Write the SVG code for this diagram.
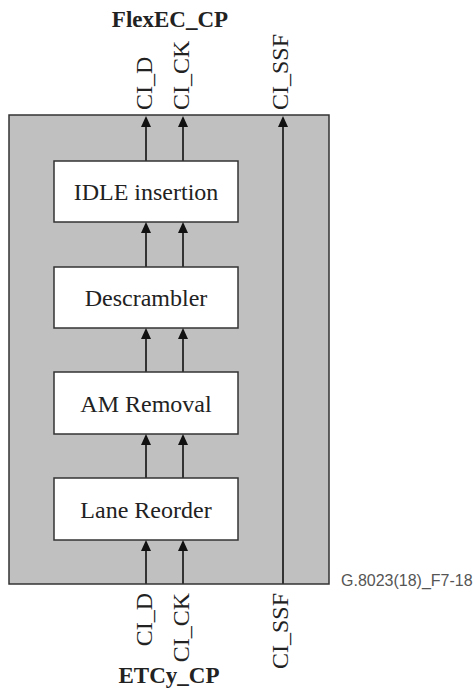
<svg xmlns="http://www.w3.org/2000/svg" width="474" height="690" viewBox="0 0 474 690">
<defs>
<style>
.frame{fill:#c0c0c0;stroke:#333;stroke-width:1.5}
.blk{fill:#fff;stroke:#333;stroke-width:1.5}
.bt{font-family:"Liberation Serif","Times New Roman",serif;font-size:24px;fill:#222;text-anchor:middle}
.lbl{font-family:"Liberation Serif","Times New Roman",serif;font-size:24px;fill:#222}
.ttl{font-family:"Liberation Serif","Times New Roman",serif;font-size:23px;font-weight:bold;fill:#222;text-anchor:middle}
.ref{font-family:"Liberation Sans",Arial,sans-serif;font-size:16px;fill:#555}
.c{stroke:#333;stroke-width:2;fill:none;marker-end:url(#ah)}
</style>
<marker id="ah" viewBox="0 0 11 10" refX="6" refY="5" markerWidth="11" markerHeight="10" orient="auto" markerUnits="userSpaceOnUse">
<path d="M0,0 L11,5 L0,10 Z" fill="#111"/>
</marker>
</defs>
<g id="frame"><rect class="frame" x="9" y="115" width="320" height="469"/></g>
<g id="idle"><rect class="blk" x="54" y="161" width="184" height="61"/><text class="bt" x="146" y="200">IDLE insertion</text></g>
<g id="descrambler"><rect class="blk" x="54" y="267" width="184" height="61"/><text class="bt" x="146" y="306">Descrambler</text></g>
<g id="amremoval"><rect class="blk" x="54" y="372" width="184" height="62"/><text class="bt" x="146" y="411.5">AM Removal</text></g>
<g id="lanereorder"><rect class="blk" x="54" y="478" width="184" height="62"/><text class="bt" x="146" y="517.5">Lane Reorder</text></g>
<g id="connectors">
<line class="c" x1="146" y1="161" x2="146" y2="121"/>
<line class="c" x1="183" y1="161" x2="183" y2="121"/>
<line class="c" x1="146" y1="267" x2="146" y2="227"/>
<line class="c" x1="183" y1="267" x2="183" y2="227"/>
<line class="c" x1="146" y1="372" x2="146" y2="333"/>
<line class="c" x1="183" y1="372" x2="183" y2="333"/>
<line class="c" x1="146" y1="478" x2="146" y2="439"/>
<line class="c" x1="183" y1="478" x2="183" y2="439"/>
<line class="c" x1="146" y1="584" x2="146" y2="545"/>
<line class="c" x1="183" y1="584" x2="183" y2="545"/>
<line class="c" x1="283" y1="584" x2="283" y2="121"/>
</g>
<g id="top-labels">
<text class="ttl" x="170" y="27">FlexEC_CP</text>
<text class="lbl" transform="translate(152,110) rotate(-90)">CI_D</text>
<text class="lbl" transform="translate(189,110) rotate(-90)">CI_CK</text>
<text class="lbl" transform="translate(288,110) rotate(-90)">CI_SSF</text>
</g>
<g id="bottom-labels">
<text class="lbl" text-anchor="end" transform="translate(152,593) rotate(-90)">CI_D</text>
<text class="lbl" text-anchor="end" transform="translate(189,593) rotate(-90)">CI_CK</text>
<text class="lbl" text-anchor="end" transform="translate(288,593) rotate(-90)">CI_SSF</text>
<text class="ttl" x="169" y="683">ETCy_CP</text>
</g>
<g id="ref"><text class="ref" x="341" y="586">G.8023(18)_F7-18</text></g>
</svg>
